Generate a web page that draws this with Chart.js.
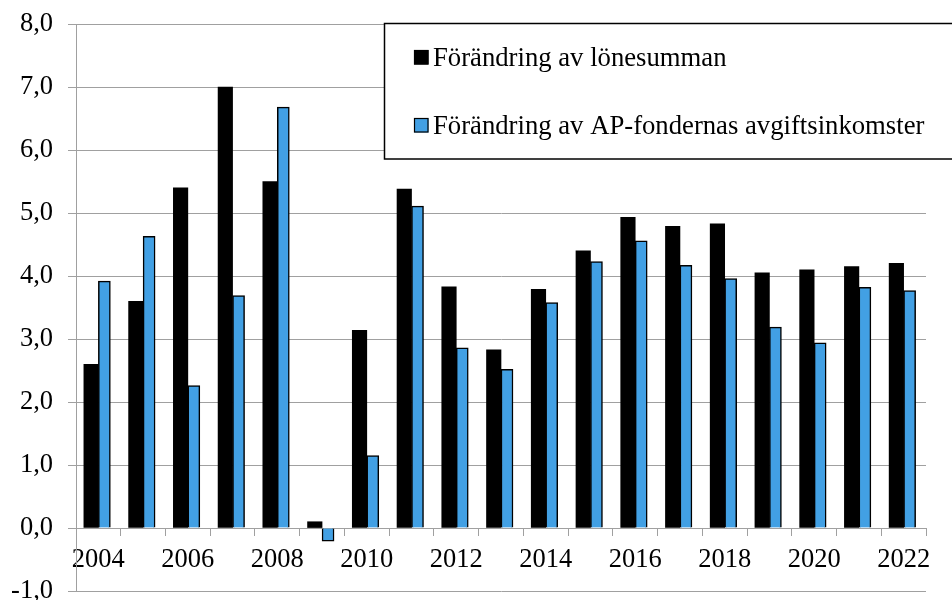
<!DOCTYPE html>
<html>
<head>
<meta charset="utf-8">
<script src="https://cdn.jsdelivr.net/npm/chart.js@4/dist/chart.umd.min.js"></script>
<style>
  html, body { margin: 0; padding: 0; background: #fff; overflow: hidden; }
  #wrap { width: 952px; height: 600px; overflow: hidden; }
  canvas { display: block; }
</style>
</head>
<body>
<div id="wrap"><canvas id="c" width="952" height="614"></canvas></div>
<script>
const years = ["2004","2005","2006","2007","2008","2009","2010","2011","2012","2013","2014","2015","2016","2017","2018","2019","2020","2021","2022"];
const lonesumma = [2.60, 3.60, 5.40, 7.00, 5.50, 0.10, 3.14, 5.38, 3.83, 2.83, 3.79, 4.40, 4.93, 4.79, 4.83, 4.05, 4.10, 4.15, 4.20];
const avgiftsinkomster = [3.92, 4.63, 2.26, 3.69, 6.68, -0.21, 1.15, 5.11, 2.86, 2.52, 3.58, 4.23, 4.56, 4.17, 3.96, 3.19, 2.94, 3.82, 3.77];
const seriesNames = ["Förändring av lönesumman", "Förändring av AP-fondernas avgiftsinkomster"];
const yTicks = { min: -1, max: 8, step: 1 };

const FONT = "'Liberation Serif', 'Times New Roman', serif";
const GRID = '#A0A0A0';
const BLUE = '#42A0E4';

const legendBox = {
  id: 'legendBox',
  afterDatasetsDraw(chart) {
    const ctx = chart.ctx;
    ctx.save();
    ctx.fillStyle = '#fff';
    ctx.fillRect(384.5, 23.5, 580, 135.5);
    ctx.strokeStyle = '#000';
    ctx.lineWidth = 1.5;
    ctx.strokeRect(384.5, 23.5, 580, 135.5);
    const rows = [66, 134];
    chart.data.datasets.forEach((ds, i) => {
      const base = rows[i];
      ctx.fillStyle = ds.backgroundColor;
      ctx.fillRect(414, base - 16, 14.5, 14.5);
      ctx.strokeStyle = '#000';
      ctx.lineWidth = 1.2;
      ctx.strokeRect(414.5, base - 15.5, 13.5, 13.5);
      ctx.fillStyle = '#000';
      ctx.font = "26.7px " + FONT;
      ctx.textBaseline = 'alphabetic';
      ctx.textAlign = 'left';
      ctx.fillText(ds.label, 433, base);
    });
    ctx.restore();
  }
};

new Chart(document.getElementById('c'), {
  type: 'bar',
  data: {
    labels: years,
    datasets: [
      { label: seriesNames[0], data: lonesumma, backgroundColor: '#000000', borderColor: '#000000', borderWidth: 0, barThickness: 14.5 },
      { label: seriesNames[1], data: avgiftsinkomster, backgroundColor: BLUE, borderColor: '#000000', borderWidth: 1.5, barThickness: 12 }
    ]
  },
  options: {
    responsive: false,
    devicePixelRatio: 1,
    animation: false,
    layout: { padding: { left: 0, right: 26, top: 24, bottom: 9 } },
    plugins: { legend: { display: false }, tooltip: { enabled: false } },
    scales: {
      x: {
        position: { y: 0 },
        grid: { drawOnChartArea: false, drawTicks: true, tickLength: 7, color: GRID, offset: true, lineWidth: 1 },
        border: { color: GRID, width: 1 },
        ticks: {
          autoSkip: false, maxRotation: 0, minRotation: 0, padding: 9,
          color: '#000', font: { family: FONT, size: 26.5 },
          callback: function(v, i) { return i % 2 === 0 ? this.getLabelForValue(v) : ''; }
        }
      },
      y: {
        min: yTicks.min, max: yTicks.max,
        afterFit(scale) { scale.width = 76; },
        grid: { color: GRID, lineWidth: 1, tickLength: 8, drawTicks: true },
        border: { color: GRID, width: 1 },
        ticks: {
          stepSize: yTicks.step, padding: 15, color: '#000',
          font: { family: FONT, size: 26.5, lineHeight: 0.6 },
          callback: v => v.toFixed(1).replace('.', ',')
        }
      }
    }
  },
  plugins: [legendBox]
});
</script>
</body>
</html>
